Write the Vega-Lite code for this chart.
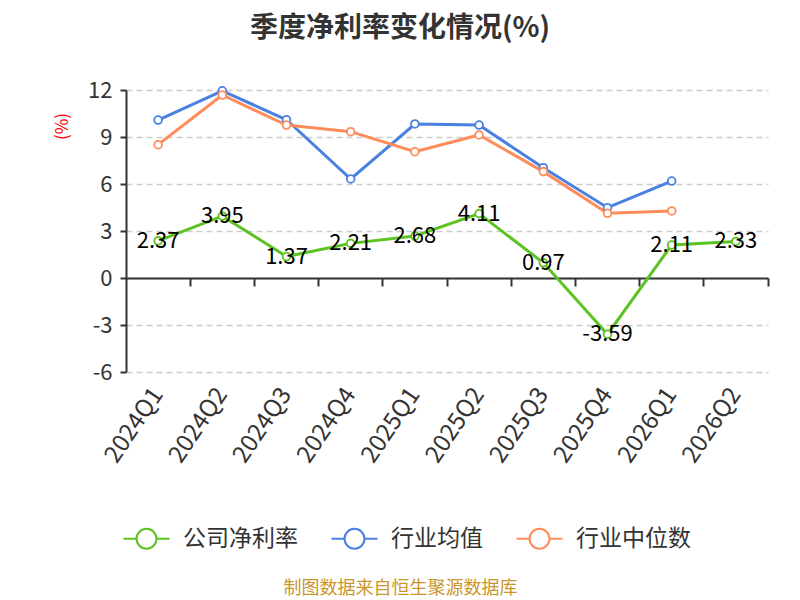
{
  "$schema": "https://vega.github.io/schema/vega-lite/v6.json",
  "width": 642,
  "height": 282,
  "autosize": "none",
  "padding": {"left": 126, "top": 90, "right": 32, "bottom": 228},
  "background": "white",
  "title": {
    "text": "季度净利率变化情况(%)",
    "fontSize": 28,
    "fontWeight": "bold",
    "color": "#333333",
    "font": "Noto Sans CJK SC",
    "anchor": "middle",
    "dx": -47,
    "offset": 36
  },
  "data": {
    "values": [
      {"q": "2024Q1", "s": "行业均值", "v": 10.08},
      {"q": "2024Q2", "s": "行业均值", "v": 11.95},
      {"q": "2024Q3", "s": "行业均值", "v": 10.1},
      {"q": "2024Q4", "s": "行业均值", "v": 6.32},
      {"q": "2025Q1", "s": "行业均值", "v": 9.83},
      {"q": "2025Q2", "s": "行业均值", "v": 9.76},
      {"q": "2025Q3", "s": "行业均值", "v": 7.04},
      {"q": "2025Q4", "s": "行业均值", "v": 4.49},
      {"q": "2026Q1", "s": "行业均值", "v": 6.19},
      {"q": "2024Q1", "s": "行业中位数", "v": 8.51},
      {"q": "2024Q2", "s": "行业中位数", "v": 11.68},
      {"q": "2024Q3", "s": "行业中位数", "v": 9.76},
      {"q": "2024Q4", "s": "行业中位数", "v": 9.34},
      {"q": "2025Q1", "s": "行业中位数", "v": 8.06},
      {"q": "2025Q2", "s": "行业中位数", "v": 9.13},
      {"q": "2025Q3", "s": "行业中位数", "v": 6.79},
      {"q": "2025Q4", "s": "行业中位数", "v": 4.13},
      {"q": "2026Q1", "s": "行业中位数", "v": 4.28},
      {"q": "2024Q1", "s": "公司净利率", "v": 2.37},
      {"q": "2024Q2", "s": "公司净利率", "v": 3.95},
      {"q": "2024Q3", "s": "公司净利率", "v": 1.37},
      {"q": "2024Q4", "s": "公司净利率", "v": 2.21},
      {"q": "2025Q1", "s": "公司净利率", "v": 2.68},
      {"q": "2025Q2", "s": "公司净利率", "v": 4.11},
      {"q": "2025Q3", "s": "公司净利率", "v": 0.97},
      {"q": "2025Q4", "s": "公司净利率", "v": -3.59},
      {"q": "2026Q1", "s": "公司净利率", "v": 2.11},
      {"q": "2026Q2", "s": "公司净利率", "v": 2.33}
    ]
  },
  "encoding": {
    "y": {
      "field": "v",
      "type": "quantitative",
      "scale": {"domain": [-6, 12], "nice": false, "zero": false},
      "axis": {
        "values": [-6, -3, 0, 3, 6, 9, 12],
        "labelExpr": "datum.value",
        "title": "(%)",
        "titleColor": "red",
        "titleFontSize": 17,
        "titleFontWeight": "normal",
        "titleAngle": -90,
        "titleX": -64,
        "titleY": 36,
        "titleAlign": "center",
        "titleBaseline": "middle",
        "labelFontSize": 22,
        "labelColor": "#333333",
        "labelPadding": 8,
        "tickSize": 6,
        "tickColor": "#333333",
        "domainColor": "#333333",
        "domainWidth": 2,
        "tickWidth": 2,
        "grid": true,
        "gridColor": "#cccccc",
        "gridDash": [6, 4],
        "gridWidth": 1.5
      }
    }
  },
  "layer": [
    {
      "mark": {
        "type": "line",
        "strokeWidth": 3,
        "point": {"filled": false, "fill": "white", "size": 60, "strokeWidth": 1.8}
      },
      "encoding": {
        "x": {
          "field": "q",
          "type": "ordinal",
          "sort": null,
          "scale": {"type": "band", "paddingInner": 0, "paddingOuter": 0},
          "bandPosition": 0.5,
          "axis": {
            "orient": "bottom",
            "title": "制图数据来自恒生聚源数据库",
            "titleColor": "#c9962b",
            "titleFontSize": 18,
            "titleFontWeight": "normal",
            "titleX": 274,
            "titleY": 216,
            "titleAlign": "center",
            "titleBaseline": "middle",
            "domain": false,
            "ticks": false,
            "grid": false,
            "labelAngle": -56,
            "labelAlign": "right",
            "labelBaseline": "middle",
            "labelFontSize": 24,
            "labelColor": "#333333",
            "labelPadding": 18
          }
        },
        "color": {
          "field": "s",
          "type": "nominal",
          "scale": {
            "domain": ["公司净利率", "行业均值", "行业中位数"],
            "range": ["#5cc322", "#4b80e3", "#ff8c5a"]
          },
          "legend": {
            "title": null,
            "orient": "none",
            "direction": "horizontal",
            "legendX": 4,
            "legendY": 432,
            "padding": 0,
            "symbolType": "M-1.5,0L-0.65,0M0.65,0L1.5,0M0.65,0A0.65,0.65 0 1 1 -0.65,0A0.65,0.65 0 1 1 0.65,0",
            "symbolSize": 940,
            "symbolStrokeWidth": 2,
            "symbolFillColor": "white",
            "labelFontSize": 23,
            "labelColor": "#333333",
            "labelOffset": 20,
            "columnPadding": 29
          }
        }
      }
    },
    {
      "transform": [{"filter": "datum.s == '公司净利率'"}],
      "mark": {"type": "text", "fontSize": 22, "color": "black", "align": "center", "baseline": "middle"},
      "encoding": {
        "x": {
          "field": "q",
          "type": "ordinal",
          "sort": null,
          "bandPosition": 0.5,
          "axis": {
            "orient": "bottom",
            "title": null,
            "labels": false,
            "grid": false,
            "bandPosition": 1,
            "offset": -94,
            "domainColor": "#333333",
            "domainWidth": 2,
            "tickColor": "#333333",
            "tickWidth": 2,
            "tickSize": 8
          }
        },
        "text": {"field": "v", "type": "nominal"}
      }
    }
  ],
  "resolve": {"axis": {"x": "independent"}},
  "config": {
    "font": "Noto Sans CJK SC",
    "view": {"stroke": null}
  }
}
